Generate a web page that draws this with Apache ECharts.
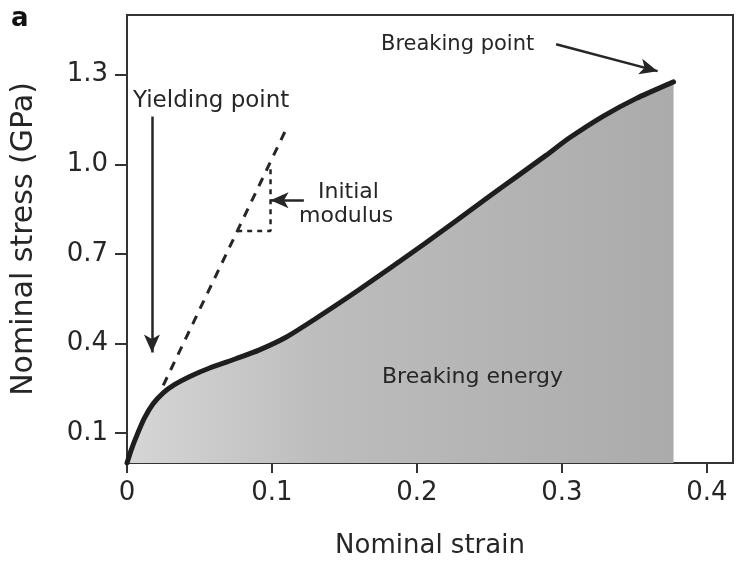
<!DOCTYPE html>
<html>
<head>
<meta charset="utf-8">
<script src="https://cdn.jsdelivr.net/npm/echarts@6/dist/echarts.min.js"></script>
<style>
  html, body { margin: 0; padding: 0; background: #fff; }
  #chart { width: 736px; height: 564px; }
</style>
</head>
<body>
<div id="chart"></div>
<script>
// stress-strain curve
const strain = [0, 0.003, 0.007, 0.012, 0.018, 0.025, 0.033, 0.043, 0.057, 0.075, 0.091, 0.110, 0.130, 0.160, 0.205, 0.250, 0.270, 0.289, 0.305, 0.328, 0.351, 0.377]
const stress = [0, 0.045, 0.095, 0.15, 0.198, 0.235, 0.263, 0.289, 0.318, 0.349, 0.378, 0.422, 0.483, 0.58, 0.733, 0.893, 0.963, 1.03, 1.088, 1.16, 1.22, 1.276]

// initial modulus tangent + slope triangle
const modulusX = [0.025, 0.110]
const modulusY = [0.26, 1.12]
const triangleX = [0.076, 0.099, 0.099]
const triangleY = [0.777, 0.777, 1.0]

const xTicks = [0, 0.1, 0.2, 0.3, 0.4]
const yTicks = [0.1, 0.4, 0.7, 1.0, 1.3]

// arrows: [from, to] in data units
const yieldArrow = [[0.0172, 1.16], [0.0172, 0.37]]
const breakArrow = [[0.296, 1.402], [0.366, 1.312]]
const modulusArrow = [[0.122, 0.880], [0.099, 0.880]]

const ink = '#262626'
const font = 'DejaVu Sans'

const zip = (xs, ys) => xs.map((x, i) => [x, ys[i]])

const myChart = echarts.init(document.getElementById('chart'))

const arrow = (pts) => ({
  type: 'line',
  data: [],
  silent: true,
  markLine: {
    silent: true,
    animation: false,
    symbol: ['none', 'arrow'],
    symbolSize: [12, 18],
    label: { show: false },
    lineStyle: { color: ink, width: 2.5, type: 'solid' },
    data: [[{ coord: pts[0] }, { coord: pts[1] }]]
  }
})

const label = (text, x, y, size, weight) => ({
  type: 'text',
  x: x,
  y: y,
  z: 100,
  style: {
    text: text,
    font: (weight || 'normal') + ' ' + size + 'px ' + font,
    fill: ink,
    textVerticalAlign: 'middle'
  }
})

const option = {
  animation: false,
  backgroundColor: '#fff',
  grid: {
    left: 127, right: 3, top: 15, bottom: 98,
    show: true, borderColor: '#333', borderWidth: 2
  },
  xAxis: {
    type: 'value',
    min: 0,
    max: 0.418,
    name: 'Nominal strain',
    nameLocation: 'middle',
    nameGap: 70,
    nameTextStyle: { fontFamily: font, fontSize: 26, color: ink },
    axisLine: { show: true, lineStyle: { color: '#333', width: 2 } },
    axisTick: { show: true, inside: false, length: 10, customValues: xTicks, lineStyle: { color: '#333', width: 2 } },
    axisLabel: {
      customValues: xTicks,
      margin: 17,
      fontFamily: font, fontSize: 26, color: ink,
      formatter: (v) => (v === 0 ? '0' : v.toFixed(1))
    },
    splitLine: { show: false }
  },
  yAxis: {
    type: 'value',
    min: 0,
    max: 1.5,
    name: 'Nominal stress (GPa)',
    nameLocation: 'middle',
    nameGap: 88,
    nameTextStyle: { fontFamily: font, fontSize: 30, color: ink },
    axisLine: { show: true, lineStyle: { color: '#333', width: 2 } },
    axisTick: { show: true, inside: false, length: 12, customValues: yTicks, lineStyle: { color: '#333', width: 2 } },
    axisLabel: {
      customValues: yTicks,
      margin: 19,
      fontFamily: font, fontSize: 26, color: ink,
      formatter: (v) => v.toFixed(1)
    },
    splitLine: { show: false }
  },
  series: [
    {
      name: 'stress',
      type: 'line',
      data: zip(strain, stress),
      smooth: 0.2,
      showSymbol: false,
      lineStyle: { color: '#1e1e1e', width: 5, cap: 'round', join: 'round' },
      areaStyle: {
        opacity: 1,
        color: new echarts.graphic.LinearGradient(0, 0, 1, 0, [
          { offset: 0, color: '#d6d6d6' },
          { offset: 0.35, color: '#bdbdbd' },
          { offset: 1, color: '#ababab' }
        ])
      },
      z: 3
    },
    {
      name: 'modulus',
      type: 'line',
      data: zip(modulusX, modulusY),
      showSymbol: false,
      lineStyle: { color: ink, width: 3, type: [9, 8] },
      z: 2
    },
    {
      name: 'triangle',
      type: 'line',
      data: zip(triangleX, triangleY),
      showSymbol: false,
      lineStyle: { color: ink, width: 2.5, type: [5, 5] },
      z: 2
    },
    arrow(yieldArrow),
    arrow(breakArrow),
    arrow(modulusArrow)
  ],
  graphic: [
    { type: 'text', x: 11, y: 6, z: 100, style: { text: 'a', font: 'bold 26px ' + font, fill: '#111' } },
    label('Yielding point', 133, 101, 23),
    label('Breaking point', 381, 45, 21),
    label('Initial', 318, 192, 22),
    label('modulus', 299, 216, 22),
    label('Breaking energy', 382, 377, 22)
  ]
}

myChart.setOption(option)
window.addEventListener('resize', () => myChart && myChart.resize())
</script>
</body>
</html>
